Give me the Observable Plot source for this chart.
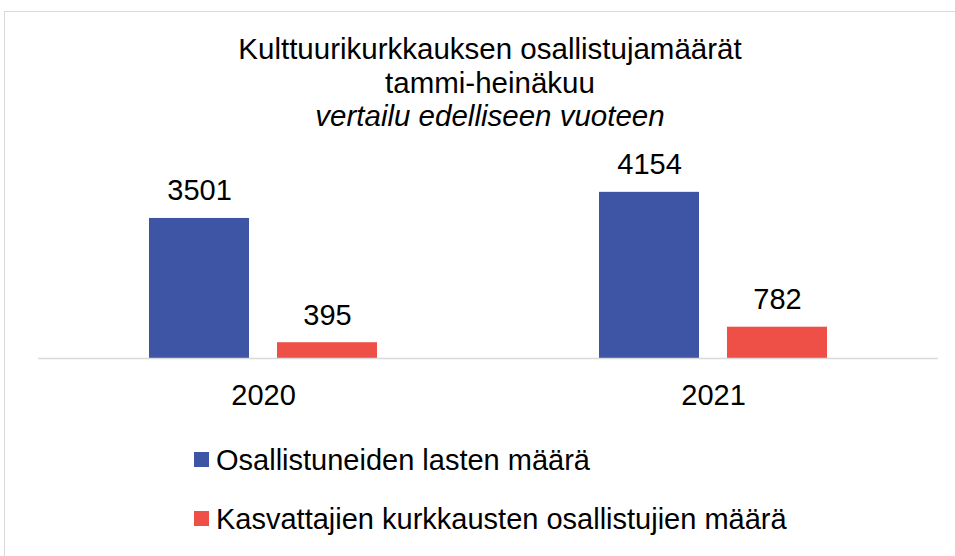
<!DOCTYPE html>
<html>
<head>
<meta charset="utf-8">
<script src="https://cdn.jsdelivr.net/npm/d3@7"></script>
<script src="https://cdn.jsdelivr.net/npm/@observablehq/plot@0.6"></script>
<style>
  html, body { margin: 0; padding: 0; background: #fff; overflow: hidden; }
  #wrap { position: relative; width: 955px; height: 556px; overflow: hidden; font-family: "Liberation Sans", Arial, sans-serif; color: #000; }
  #frame { position: absolute; left: 4px; top: 11px; width: 980px; height: 600px; border: 1.5px solid #d9d9d9; box-sizing: border-box; }
  #title { position: absolute; left: 0; top: 32px; width: 980px; text-align: center; font-size: 29.5px; line-height: 33.5px; }
  #title .sub { font-style: italic; }
  #chart { position: absolute; left: 0; top: 140px; }
  #legend { position: absolute; left: 0; top: 0; }
  .lg { position: absolute; left: 194px; font-size: 29px; white-space: nowrap; }
  .lg .sw { position: absolute; left: 0; width: 15px; height: 15px; }
  .lg .tx { position: absolute; left: 22px; line-height: 34px; }
</style>
</head>
<body>
<div id="wrap">
  <div id="frame"></div>
  <div id="title">
    <div>Kulttuurikurkkauksen osallistujamäärät</div>
    <div>tammi-heinäkuu</div>
    <div class="sub">vertailu edelliseen vuoteen</div>
  </div>
  <div id="chart"></div>
  <div id="legend"></div>
</div>
<script>
const years = ["2020", "2021"];
const seriesNames = ["Osallistuneiden lasten määrä", "Kasvattajien kurkkausten osallistujien määrä"];
const childrenCounts = [3501, 4154];
const educatorCounts = [395, 782];
const seriesColors = ["#3D55A4", "#EE5047"];

const data = [];
years.forEach((y, i) => {
  data.push({year: y, series: seriesNames[0], value: childrenCounts[i]});
  data.push({year: y, series: seriesNames[1], value: educatorCounts[i]});
});

const plot = Plot.plot({
  width: 955,
  height: 280,
  marginLeft: 38,
  marginRight: 17,
  marginTop: 18,
  marginBottom: 62,
  style: {fontFamily: "'Liberation Sans', Arial, sans-serif", fontSize: "29px", color: "#000", background: "transparent", overflow: "visible"},
  fx: {domain: years, padding: 0, label: null},
  x: {domain: seriesNames, paddingInner: 0.21875, paddingOuter: 0.867, axis: null},
  y: {domain: [0, 5000], axis: null},
  color: {domain: seriesNames, range: seriesColors},
  marks: [
    Plot.barY(data, {fx: "year", x: "series", y: "value", fill: "series"}),
    Plot.ruleY([0], {stroke: "#d9d9d9", strokeWidth: 1.5}),
    Plot.text(data, {fx: "year", x: "series", y: "value", text: d => String(d.value), lineAnchor: "bottom", dy: -18, fontSize: 29, fill: "#000"}),
    Plot.axisFx({anchor: "bottom", tickSize: 0, tickPadding: 26, fontSize: 29, label: null})
  ]
});
document.getElementById("chart").appendChild(plot);

const legend = document.getElementById("legend");
const legendTops = [443, 502];
seriesNames.forEach((name, i) => {
  const row = document.createElement("div");
  row.className = "lg";
  row.style.top = legendTops[i] + "px";
  const sw = document.createElement("div");
  sw.className = "sw";
  sw.style.background = seriesColors[i];
  sw.style.top = "9px";
  const tx = document.createElement("div");
  tx.className = "tx";
  tx.textContent = name;
  row.appendChild(sw);
  row.appendChild(tx);
  legend.appendChild(row);
});
</script>
</body>
</html>
